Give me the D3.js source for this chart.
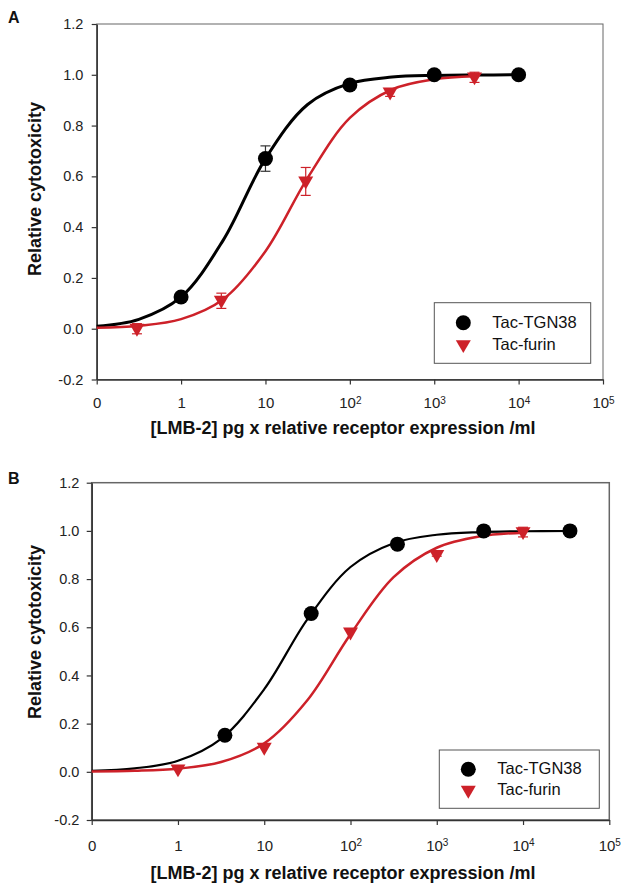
<!DOCTYPE html>
<html>
<head>
<meta charset="utf-8">
<script src="https://cdn.jsdelivr.net/npm/d3@7"></script>
<style>
  body { margin: 0; background: #fff; }
  svg { display: block; font-family: "Liberation Sans", Arial, sans-serif; }
  .axis path, .axis line { stroke: #333; }
  .axis text { fill: #222; }
</style>
</head>
<body>
<svg id="chart" width="624" height="885"></svg>
<script>

// ---------- data ----------

var xTicks = [0.1, 1, 10, 100, 1000, 10000, 100000];
var yTicks = [-0.2, 0, 0.2, 0.4, 0.6, 0.8, 1.0, 1.2];
var seriesNames = ["Tac-TGN38", "Tac-furin"];

// panel A measured points
var tgnA_x = [1, 10, 100, 1000, 10000];
var tgnA_y = [0.125, 0.67, 0.96, 1.0, 1.0];
var tgnA_err = [0.01, 0.05, 0.01, 0.01, 0.005];

var furinA_x = [0.3, 3, 30, 300, 3000];
var furinA_y = [0.0, 0.11, 0.58, 0.93, 0.99];
var furinA_err = [0.02, 0.03, 0.055, 0.015, 0.02];

// panel A fitted curves
var fitTgnA_x = [0.1, 0.316, 1, 3.16, 10, 31.6, 100, 316, 1000, 3162, 10000];
var fitTgnA_y = [0.010, 0.037, 0.125, 0.349, 0.670, 0.883, 0.966, 0.991, 0.9975, 0.9993, 0.9998];
var fitFurinA_x = [0.1, 0.316, 1, 3.16, 10, 31.6, 100, 316, 1000, 3000];
var fitFurinA_y = [0.0035, 0.0116, 0.0377, 0.116, 0.305, 0.594, 0.830, 0.942, 0.982, 0.994];

// panel B measured points
var tgnB_x = [3.5, 35, 350, 3500, 35000];
var tgnB_y = [0.152, 0.657, 0.945, 1.0, 1.0];
var tgnB_err = [0, 0, 0, 0, 0];

var furinB_x = [1, 10, 100, 1000, 10000];
var furinB_y = [0.01, 0.10, 0.578, 0.90, 0.995];
var furinB_err = [0, 0, 0, 0.005, 0.02];

// panel B fitted curves
var fitTgnB_x = [0.1, 0.316, 1, 3.16, 10, 31.6, 100, 316, 1000, 3162, 10000, 35000];
var fitTgnB_y = [0.0044, 0.0144, 0.0459, 0.137, 0.343, 0.633, 0.850, 0.949, 0.984, 0.995, 0.9985, 0.9996];
var fitFurinB_x = [0.1, 0.316, 1, 3.16, 10, 31.6, 100, 316, 1000, 3162, 10000];
var fitFurinB_y = [0.0013, 0.0042, 0.0132, 0.0405, 0.118, 0.297, 0.571, 0.808, 0.930, 0.977, 0.9926];

// ---------- drawing ----------

var svg = d3.select("#chart");
var red = "#cd2129";
var xTitle = "[LMB-2] pg x relative receptor expression /ml";
var yTitle = "Relative cytotoxicity";

function zip(xs, ys, es) {
	return xs.map(function(x, i) {
		return {x: x, y: ys[i], e: es ? es[i] : 0};
	});
}

// downward triangle centred on the point
function triangle(s) {
	return "M" + (-s) + "," + (-s * 0.66) + "L" + s + "," + (-s * 0.66) + "L0," + (s * 1.06) + "Z";
}

var panel = function(p) {

	var x = d3.scaleLog().domain([0.1, 100000]).range([p.left, p.right]);
	var y = d3.scaleLinear().domain([-0.2, 1.2]).range([p.bottom, p.top]);

	var g = svg.append("g");

	// frame
	g.append("rect")
		.attr("x", p.left)
		.attr("y", p.top)
		.attr("width", p.right - p.left)
		.attr("height", p.bottom - p.top)
		.attr("fill", "none")
		.attr("stroke", "#666")
		.attr("stroke-width", p.frameWidth);

	// x axis
	var xAxis = g.append("g")
		.attr("class", "axis")
		.attr("transform", "translate(0," + p.bottom + ")")
		.call(d3.axisBottom(x).tickValues(xTicks).tickSize(5).tickSizeOuter(0).tickPadding(p.xPad));

	xAxis.selectAll(".tick text")
		.attr("font-size", "15px")
		.attr("font-family", null)
		.each(function(d) {
			var e = Math.round(Math.log10(d));
			var t = d3.select(this).text("");
			if (e < 0) t.text("0");
			else if (e == 0) t.text("1");
			else if (e == 1) t.text("10");
			else {
				t.append("tspan").text("10");
				t.append("tspan").attr("dy", "-0.42em").attr("font-size", "10px").text(e);
			}
		});

	// y axis (plain hyphen for negatives, like the original)
	var yAxis = g.append("g")
		.attr("class", "axis")
		.attr("transform", "translate(" + p.left + ",0)")
		.call(d3.axisLeft(y).tickValues(yTicks).tickSize(5).tickSizeOuter(0).tickPadding(p.yPad)
			.tickFormat(function(d) { return d.toFixed(1); }));

	yAxis.selectAll(".tick text")
		.attr("font-size", "14.5px")
		.attr("font-family", null);

	g.selectAll(".axis path").attr("stroke-width", 1.5);
	g.selectAll(".axis line").attr("stroke-width", 1.2);

	// axis titles
	g.append("text")
		.attr("x", 343)
		.attr("y", p.xTitleY)
		.attr("text-anchor", "middle")
		.attr("font-size", "18px")
		.attr("font-weight", "bold")
		.attr("fill", "#111")
		.text(xTitle);

	g.append("text")
		.attr("transform", "translate(41," + p.yTitleY + ") rotate(-90)")
		.attr("text-anchor", "middle")
		.attr("font-size", "18px")
		.attr("font-weight", "bold")
		.attr("fill", "#111")
		.text(yTitle);

	// panel letter
	g.append("text")
		.attr("x", 8)
		.attr("y", p.top - (p.letter == "A" ? 1 : -1.7))
		.attr("font-size", "16px")
		.attr("font-weight", "bold")
		.attr("fill", "#111")
		.text(p.letter);

	var line = d3.line()
		.x(function(d) { return x(d.x); })
		.y(function(d) { return y(d.y); })
		.curve(d3.curveCatmullRom.alpha(0.5));

	// fitted curves
	g.append("path")
		.datum(zip(p.fitTgn[0], p.fitTgn[1]))
		.attr("d", line)
		.attr("fill", "none")
		.attr("stroke", "#000")
		.attr("stroke-width", p.blackWidth);

	g.append("path")
		.datum(zip(p.fitFurin[0], p.fitFurin[1]))
		.attr("d", line)
		.attr("fill", "none")
		.attr("stroke", red)
		.attr("stroke-width", 2.5);

	// error bars
	var drawErr = function(data, color) {
		var bars = g.append("g")
			.selectAll("g")
			.data(data.filter(function(d) { return d.e > 0; }))
			.enter()
			.append("g")
			.attr("stroke", color)
			.attr("stroke-width", 1.2);

		bars.append("line")
			.attr("x1", function(d) { return x(d.x); })
			.attr("x2", function(d) { return x(d.x); })
			.attr("y1", function(d) { return y(d.y - d.e); })
			.attr("y2", function(d) { return y(d.y + d.e); });

		[-1, 1].forEach(function(s) {
			bars.append("line")
				.attr("x1", function(d) { return x(d.x) - 5; })
				.attr("x2", function(d) { return x(d.x) + 5; })
				.attr("y1", function(d) { return y(d.y + s * d.e); })
				.attr("y2", function(d) { return y(d.y + s * d.e); });
		});
	};

	var tgn = zip(p.tgn[0], p.tgn[1], p.tgn[2]);
	var furin = zip(p.furin[0], p.furin[1], p.furin[2]);

	drawErr(tgn, "#333");
	drawErr(furin, red);

	// markers
	g.selectAll(".tgn")
		.data(tgn)
		.enter()
		.append("circle")
		.attr("cx", function(d) { return x(d.x); })
		.attr("cy", function(d) { return y(d.y); })
		.attr("r", 7.5)
		.attr("fill", "#000");

	g.selectAll(".furin")
		.data(furin)
		.enter()
		.append("path")
		.attr("transform", function(d) { return "translate(" + x(d.x) + "," + y(d.y) + ")"; })
		.attr("d", triangle(7.5))
		.attr("fill", red);

	// legend
	var lg = g.append("g")
		.attr("transform", "translate(" + p.legend[0] + "," + p.legend[1] + ")");

	lg.append("rect")
		.attr("width", p.legend[2])
		.attr("height", p.legend[3])
		.attr("fill", "#fff")
		.attr("stroke", "#555")
		.attr("stroke-width", 1);

	lg.append("circle")
		.attr("cx", 29)
		.attr("cy", p.legend[3] * 0.33)
		.attr("r", 7.5)
		.attr("fill", "#000");

	lg.append("path")
		.attr("transform", "translate(29," + (p.legend[3] * 0.7) + ")")
		.attr("d", triangle(7.5))
		.attr("fill", red);

	lg.selectAll(".ltext")
		.data(seriesNames)
		.enter()
		.append("text")
		.attr("x", 58)
		.attr("y", function(d, i) { return p.legend[3] * (i == 0 ? 0.42 : 0.78); })
		.attr("font-size", "16.5px")
		.attr("fill", "#111")
		.text(function(d) { return d; });
};

panel({
	letter: "A",
	left: 96.7, right: 603, top: 24, bottom: 379.5,
	frameWidth: 1, blackWidth: 3,
	xPad: 13, yPad: 8.4,
	xTitleY: 433.5, yTitleY: 189,
	tgn: [tgnA_x, tgnA_y, tgnA_err],
	furin: [furinA_x, furinA_y, furinA_err],
	fitTgn: [fitTgnA_x, fitTgnA_y],
	fitFurin: [fitFurinA_x, fitFurinA_y],
	legend: [434.3, 302.7, 156.4, 60.6]
});

panel({
	letter: "B",
	left: 91.7, right: 609.3, top: 482.7, bottom: 820,
	frameWidth: 1.5, blackWidth: 2.2,
	xPad: 15, yPad: 7.4,
	xTitleY: 879, yTitleY: 632,
	tgn: [tgnB_x, tgnB_y, tgnB_err],
	furin: [furinB_x, furinB_y, furinB_err],
	fitTgn: [fitTgnB_x, fitTgnB_y],
	fitFurin: [fitFurinB_x, fitFurinB_y],
	legend: [439.3, 750, 160, 58.3]
});

</script>
</body>
</html>
